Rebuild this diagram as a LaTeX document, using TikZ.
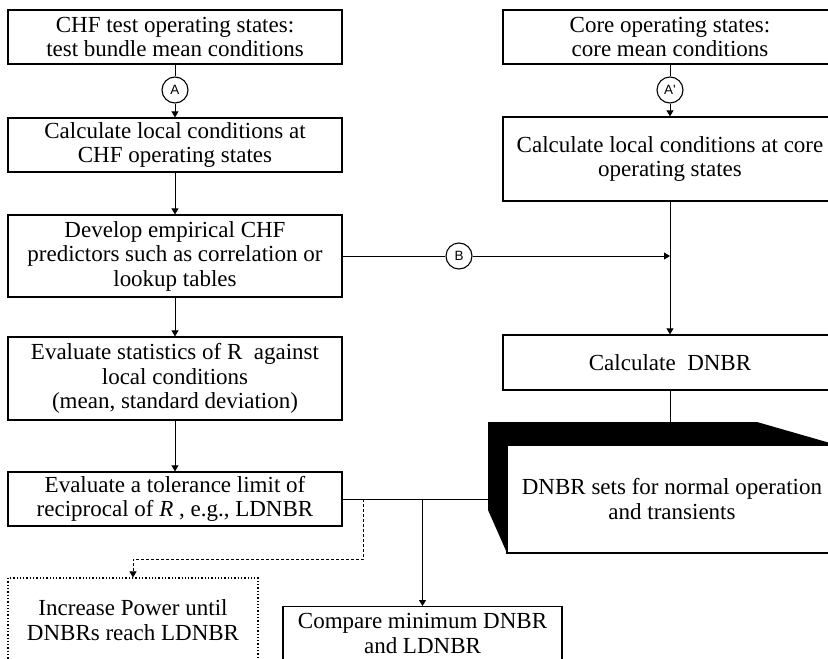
\documentclass[tikz,border=0pt]{standalone}
\usepackage{fontspec}
\setmainfont{Liberation Serif}
\newfontfamily\lblfont{Liberation Sans}
\usetikzlibrary{arrows.meta}
\tikzset{
	stepbox/.style={draw, line width=1.3pt, minimum width=334pt, align=center, inner sep=2pt, font=\fontsize{23}{24.5}\selectfont},
	conn/.style={draw, circle, line width=1.1pt, minimum size=26pt, inner sep=0pt, font=\lblfont\fontsize{13.5}{13.5}\selectfont},
	link/.style={line width=0.8pt},
	arr/.style={link, -{Triangle[length=6pt,width=7pt]}},
}
\begin{document}
\begin{tikzpicture}[x=1pt,y=-1pt]
			\useasboundingbox (0,0) rectangle (828,659);
			\clip (0,0) rectangle (828,659);
			\node[stepbox, minimum height=54pt] (chf) at (175,37) {CHF test operating states:\\test bundle mean conditions};
			\node[stepbox, minimum height=54pt] (chfloc) at (175,145) {Calculate local conditions at\\CHF operating states};
			\node[stepbox, minimum height=82pt] (dev) at (175,256) {Develop empirical CHF\\predictors such as correlation or\\lookup tables};
			\node[stepbox, minimum height=83pt] (stat) at (175,378.5) {Evaluate statistics of R~ against\\local conditions\\(mean, standard deviation)};
			\node[stepbox, minimum height=54pt] (tol) at (175,499) {Evaluate a tolerance limit of\\reciprocal of \textit{R} , e.g., LDNBR};
			\node[stepbox, minimum height=54pt] (core) at (670,37) {Core operating states:\\core mean conditions};
			\node[stepbox, minimum height=84pt] (corloc) at (670,159) {Calculate local conditions at core\\operating states};
			\node[stepbox, minimum height=55pt] (dnbr) at (670,362.5) {Calculate~ DNBR};
			\node[stepbox, dotted, line width=1.1pt, minimum width=250pt, minimum height=84pt] (inc) at (133,620) {Increase Power until\\DNBRs reach LDNBR};
			\node[stepbox, minimum width=279pt, anchor=north] (cmp) at (422.5,606) {\rule{0pt}{20pt}Compare minimum DNBR\\and LDNBR\\[-4pt]\mbox{}};
			\node[conn] (ca) at (175,90) {A};
			\node[conn] (cap) at (670,90) {A'};
			\node[conn] (cb) at (459,256) {B};
			\fill (488,422) -- (757,422) -- (837,445) -- (507,445) -- (507,553) -- (488,510) -- cycle;
			\node[stepbox, minimum width=330pt, minimum height=108pt, fill=white] (sets) at (672,499) {DNBR sets for normal operation\\and transients};
			\coordinate (bevtop) at (dnbr.south |- 0,422);
			\coordinate (bevleft) at (488,499);
			\coordinate (jb) at (corloc.south |- cb);
			\coordinate (jc) at (cmp.north |- tol.east);
			\coordinate (jd) at ([xshift=21pt]tol.east);
			\draw[link] (chf) -- (ca);
			\draw[arr] (ca) -- (chfloc);
			\draw[link] (core) -- (cap);
			\draw[arr] (cap) -- (corloc);
			\draw[arr] (chfloc) -- (dev);
			\draw[arr] (dev) -- (stat);
			\draw[arr] (stat) -- (tol);
			\draw[link] (dev) -- (cb);
			\draw[arr] (cb) -- (jb);
			\draw[arr] (corloc) -- (dnbr);
			\draw[link] (dnbr) -- (bevtop);
			\draw[link] (tol) -- (bevleft);
			\draw[arr] (jc) -- (cmp);
			\draw[arr, densely dashed] (jd) -- ++(0,60) -| (inc);
		\end{tikzpicture}
\end{document}
